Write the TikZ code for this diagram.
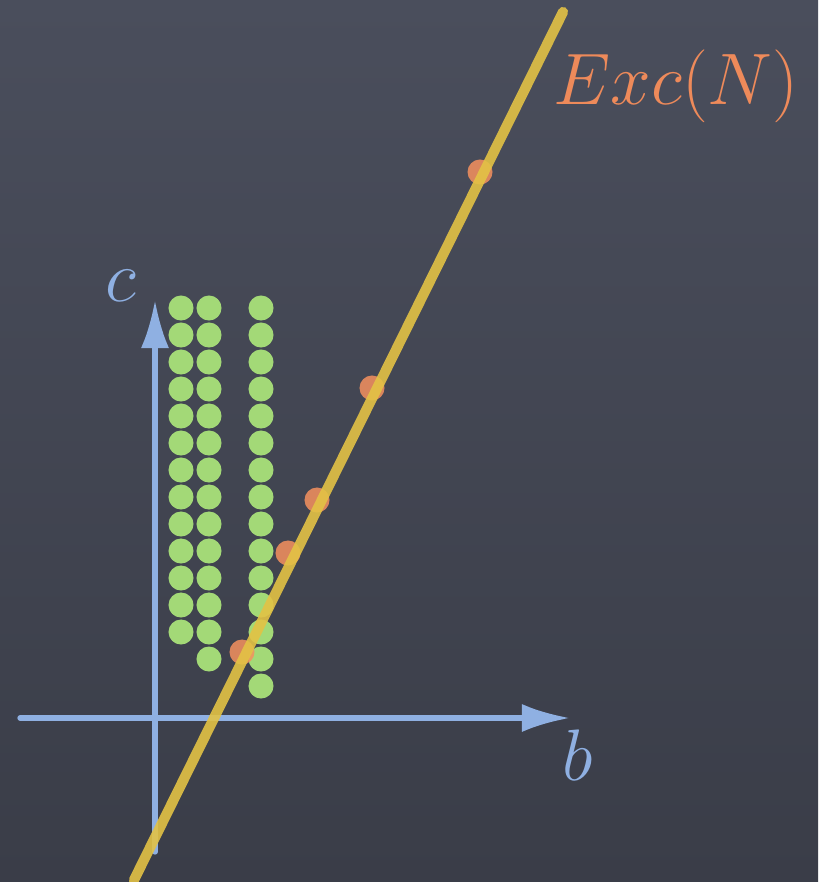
\documentclass[tikz,border=0pt]{standalone}
\usepackage{amsmath,amssymb}
\usepackage{tikz}
\usetikzlibrary{arrows.meta}
\definecolor{boardtop}{HTML}{4A4E5C}
\definecolor{boardbot}{HTML}{3A3D48}
\definecolor{chalkblue}{HTML}{8FB0E2}
\definecolor{beadgreen}{HTML}{A3D977}
\definecolor{hitorange}{HTML}{F5915F}
\definecolor{chalkyellow}{HTML}{E3C245}
\definecolor{excorange}{HTML}{EE8A5A}
\tikzset{
  every picture/.style={line join=round, line cap=round, >=Latex},
  axis/.style={draw=chalkblue, line width=1.5pt, -{Latex[length=0.48cm,width=0.28cm]}},
  bead/.style={fill=beadgreen},
  hit/.style={fill=hitorange, opacity=0.85},
  chalk/.style={draw=chalkyellow, line width=2.9pt, opacity=0.9},
  lbl/.style={font=\fontsize{21}{25}\selectfont, inner sep=0pt},
}

\begin{document}
\begin{tikzpicture}[x=0.01cm,y=-0.01cm]
\useasboundingbox (0,0) rectangle (818,882);
\shade[top color=boardtop,bottom color=boardbot] (0,0) rectangle (818,882);
% axes
\coordinate (bmin) at (20,718);
\coordinate (bmax) at (570,718);
\coordinate (cmin) at (155,852);
\coordinate (cmax) at (155,300);
\draw[axis] (bmin) -- (bmax);
\draw[axis] (cmin) -- (cmax);
\node[lbl,anchor=base,text=chalkblue] (blab) at (578,780) {$b$};
\node[lbl,anchor=base,text=chalkblue] (clab) at (121,301) {$c$};
% lattice points
\foreach \y in {308,335,...,632} \fill[bead] (181,\y) circle[radius=0.125cm];
\foreach \y in {308,335,...,659} \fill[bead] (209,\y) circle[radius=0.125cm];
\foreach \y in {308,335,...,686} \fill[bead] (261,\y) circle[radius=0.125cm];
% points on the line
\foreach \p in {(242,652),(288,553),(317,500),(372,388),(480,172)}
  \fill[hit] \p circle[radius=0.125cm];
\coordinate (lo) at (134,880);
\coordinate (hi) at (563,12);
\draw[chalk] (lo) -- (hi);
\node[lbl,anchor=base west,text=excorange] (exc) at (553,105) {$Exc(N)$};
\end{tikzpicture}
\end{document}
